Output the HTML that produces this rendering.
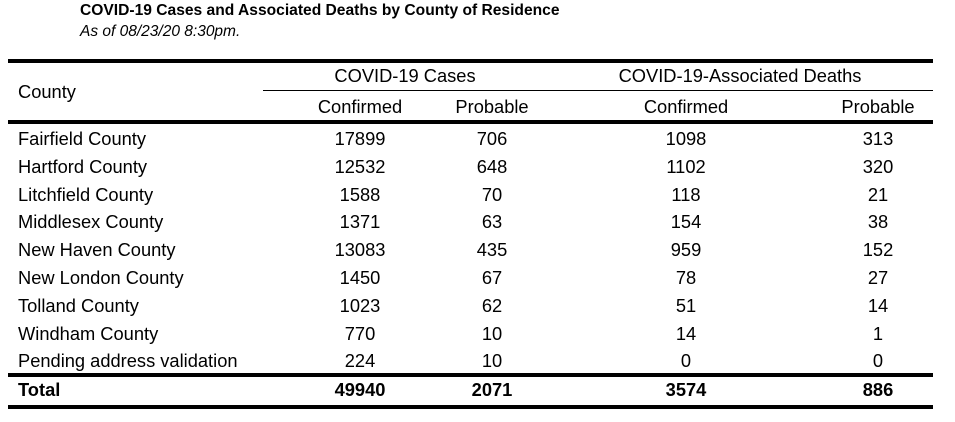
<!DOCTYPE html>
<html><head><meta charset="utf-8"><style>
body{margin:0;width:955px;height:422px;background:#fff;font-family:"Liberation Sans",sans-serif;color:#000;position:relative;overflow:hidden}
.a{position:absolute;white-space:nowrap}
.t{font-size:18.3px;line-height:20px}
.c{transform:translateX(-50%)}
.line{position:absolute;background:#000}
</style></head><body>
<div class="a" style="left:80px;top:2px;font-size:15.6px;font-weight:bold;">COVID-19 Cases and Associated Deaths by County of Residence</div>
<div class="a" style="left:80px;top:23px;font-size:15.5px;font-style:italic;">As of 08/23/20 8:30pm.</div>
<div class="line" style="left:8px;width:925px;top:59px;height:4px"></div>
<div class="line" style="left:263px;width:670px;top:90px;height:1px"></div>
<div class="line" style="left:8px;width:925px;top:120px;height:4px"></div>
<div class="line" style="left:8px;width:925px;top:373px;height:4px"></div>
<div class="line" style="left:8px;width:925px;top:405px;height:4px"></div>
<div class="a t" style="left:18px;top:82px">County</div>
<div class="a t c" style="left:405px;top:66px">COVID-19 Cases</div>
<div class="a t c" style="left:740px;top:66px">COVID-19-Associated Deaths</div>
<div class="a t c" style="left:360px;top:97px">Confirmed</div>
<div class="a t c" style="left:492px;top:97px">Probable</div>
<div class="a t c" style="left:686px;top:97px">Confirmed</div>
<div class="a t c" style="left:878px;top:97px">Probable</div>
<div id="rows"></div>
<script>
const counties=["Fairfield County","Hartford County","Litchfield County","Middlesex County","New Haven County","New London County","Tolland County","Windham County","Pending address validation"];
const casesConfirmed=[17899,12532,1588,1371,13083,1450,1023,770,224];
const casesProbable=[706,648,70,63,435,67,62,10,10];
const deathsConfirmed=[1098,1102,118,154,959,78,51,14,0];
const deathsProbable=[313,320,21,38,152,27,14,1,0];
const totals=[49940,2071,3574,886];
const colX=[360,492,686,878];
const root=document.getElementById('rows');
function cell(txt,x,y,center,bold,name){
  const d=document.createElement('div');
  d.className='a t'+(center?' c':'');
  d.style.left=x+'px';d.style.top=y+'px';
  if(bold){d.style.fontWeight='bold';}
  d.textContent=txt;
  
  
  root.appendChild(d);
}
counties.forEach((c,i)=>{
  const y=129+i*27.8;
  cell(c,18,y,false,false,'county-name');
  [casesConfirmed,casesProbable,deathsConfirmed,deathsProbable].forEach((arr,j)=>cell(String(arr[i]),colX[j],y,true,false,'value-cell'));
});
cell('Total',18,380,false,true,'total-label');
totals.forEach((v,j)=>cell(String(v),colX[j],380,true,true,'total-value'));
</script>
</body></html>
